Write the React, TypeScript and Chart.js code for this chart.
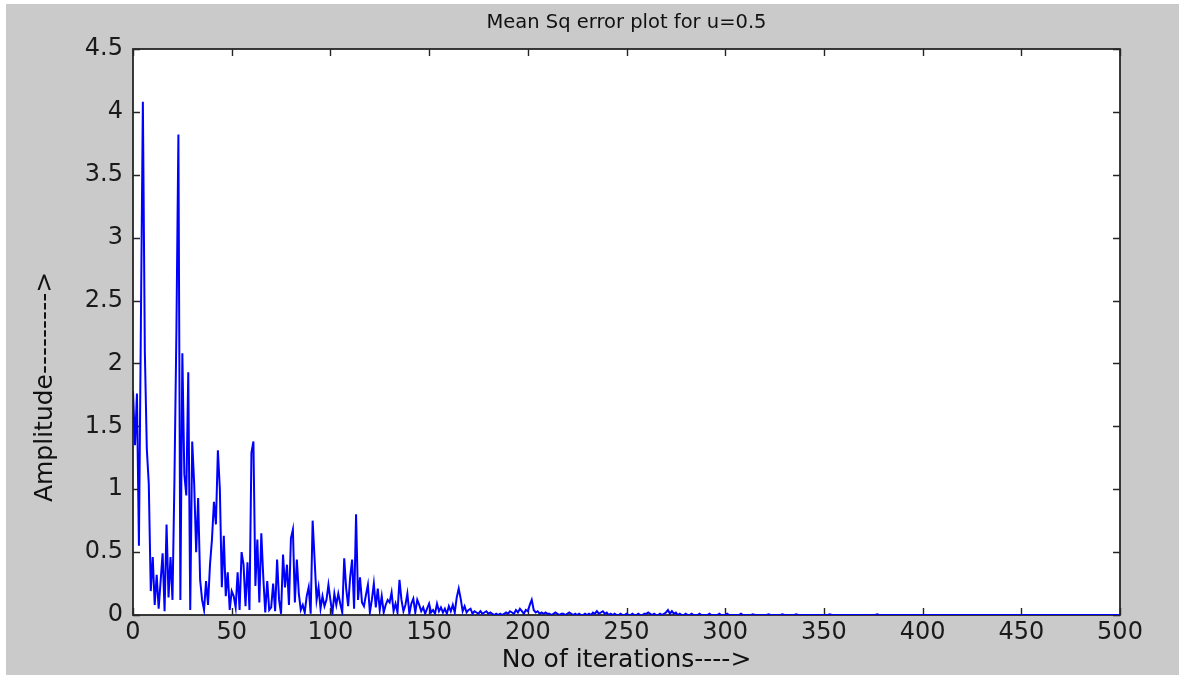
import React, { useEffect, useRef } from "react";
import { Chart, registerables } from "chart.js";

Chart.register(...registerables);

// Text shown on the figure
const chartTitle = "Mean Sq error plot for u=0.5";
const xAxisTitle = "No of iterations---->";
const yAxisTitle = "Amplitude--------->";

// Axis ticks
const xTickValues = [0, 50, 100, 150, 200, 250, 300, 350, 400, 450, 500];
const yTickValues = [0, 0.5, 1, 1.5, 2, 2.5, 3, 3.5, 4, 4.5];
const yTickLabels = ["0", "0.5", "1", "1.5", "2", "2.5", "3", "3.5", "4", "4.5"];

// Mean squared error, iterations 0..210 (the noisy transient)
const mseTransient = [
  1.78, 1.35, 1.76, 0.55, 2.32, 4.08, 2.09, 1.32, 1.04, 0.19,
  0.46, 0.08, 0.32, 0.05, 0.27, 0.49, 0.03, 0.72, 0.14, 0.46,
  0.12, 1.08, 2.27, 3.82, 0.12, 2.08, 1.12, 0.95, 1.93, 0.04,
  1.38, 1.04, 0.5, 0.93, 0.28, 0.12, 0.04, 0.27, 0.08, 0.4,
  0.6, 0.9, 0.72, 1.31, 1.0, 0.22, 0.63, 0.15, 0.34, 0.04,
  0.19, 0.15, 0.06, 0.34, 0.04, 0.5, 0.4, 0.07, 0.42, 0.04,
  1.29, 1.38, 0.23, 0.6, 0.1, 0.65, 0.3, 0.02, 0.27, 0.04,
  0.06, 0.25, 0.03, 0.44, 0.12, 0.01, 0.48, 0.22, 0.4, 0.08,
  0.61, 0.68, 0.1, 0.44, 0.17, 0.04, 0.08, 0.02, 0.15, 0.22,
  0.01, 0.75, 0.44, 0.12, 0.22, 0.05, 0.15, 0.07, 0.12, 0.24,
  0.12, 0.01, 0.17, 0.08, 0.17, 0.09, 0.02, 0.45, 0.21, 0.07,
  0.3, 0.44, 0.05, 0.8, 0.12, 0.3, 0.1, 0.07, 0.16, 0.24,
  0.02, 0.12, 0.25, 0.06, 0.21, 0.04, 0.15, 0.02, 0.08, 0.12,
  0.1, 0.18, 0.03, 0.09, 0.02, 0.28, 0.12, 0.03, 0.08, 0.17,
  0.01, 0.09, 0.13, 0.02, 0.12, 0.08, 0.03, 0.06, 0.01, 0.05,
  0.09, 0.02, 0.04, 0.01, 0.09, 0.03, 0.06, 0.02, 0.05, 0.01,
  0.07, 0.03, 0.08, 0.02, 0.14, 0.21, 0.13, 0.03, 0.07, 0.02,
  0.04, 0.05, 0.01, 0.03, 0.02, 0.01, 0.03, 0.01, 0.02, 0.03,
  0.01, 0.02, 0.01, 0, 0.01, 0, 0.01, 0, 0.01, 0.02,
  0.01, 0.03, 0.02, 0.01, 0.04, 0.02, 0.05, 0.03, 0.01, 0.04,
  0.03, 0.08, 0.12, 0.04, 0.02, 0.03, 0.01, 0.02, 0.01, 0.02,
  0.01,
];

// Mean squared error, iterations 211..500 (settled)
const mseSettled = [
  0.01, 0, 0.01, 0.02, 0.01, 0, 0.01, 0.01, 0, 0.01,
  0.02, 0.01, 0, 0.01, 0, 0.01, 0, 0, 0.01, 0,
  0.01, 0, 0.02, 0.01, 0.03, 0.01, 0.02, 0.03, 0.01, 0.02,
  0, 0.01, 0, 0.01, 0, 0, 0.01, 0, 0, 0.01,
  0, 0, 0.01, 0, 0, 0.01, 0, 0, 0.01, 0.01,
  0.02, 0.01, 0, 0.01, 0, 0, 0.01, 0, 0.01, 0.02,
  0.04, 0.01, 0.03, 0.01, 0.02, 0, 0.01, 0, 0, 0.01,
  0, 0, 0.01, 0, 0, 0, 0.01, 0, 0, 0,
  0, 0.01, 0, 0, 0, 0, 0.01, 0, 0, 0,
  0.01, 0, 0, 0, 0, 0, 0, 0.01, 0, 0,
  0, 0, 0, 0.005, 0, 0, 0, 0, 0, 0,
  0, 0.005, 0, 0, 0, 0, 0, 0, 0.005, 0,
  0, 0, 0, 0, 0, 0.005, 0, 0, 0, 0,
  0, 0, 0, 0, 0, 0, 0, 0, 0, 0,
  0, 0, 0.005, 0, 0, 0, 0, 0, 0, 0,
  0, 0, 0, 0, 0, 0, 0, 0, 0, 0,
  0, 0, 0, 0, 0, 0, 0.005, 0, 0, 0,
  0, 0, 0, 0, 0, 0, 0, 0, 0, 0,
  0, 0, 0, 0, 0, 0, 0, 0, 0, 0,
  0, 0, 0, 0, 0, 0, 0, 0, 0, 0,
  0, 0, 0, 0, 0, 0, 0, 0, 0, 0,
  0, 0, 0, 0, 0, 0, 0, 0, 0, 0,
  0, 0, 0, 0, 0, 0, 0, 0, 0, 0,
  0, 0, 0, 0, 0, 0, 0, 0, 0, 0,
  0, 0, 0, 0, 0, 0, 0, 0, 0, 0,
  0, 0, 0, 0, 0, 0, 0, 0, 0, 0,
  0, 0, 0, 0, 0, 0, 0, 0, 0, 0,
  0, 0, 0, 0, 0, 0, 0, 0, 0, 0,
  0, 0, 0, 0, 0, 0, 0, 0, 0, 0,
];

const W = 1179;
const H = 675;
const PLOT = { left: 133, top: 49, right: 1120, bottom: 615 };
const FONT = "DejaVu Sans";
const TICK_LEN = 7;

// Grey figure background, white axes box, MATLAB-style inward ticks, title and y label
const figurePlugin = {
  id: "figureFrame",
  beforeDraw(chart: any) {
    const { ctx, chartArea: a } = chart;
    ctx.save();
    ctx.fillStyle = "#ffffff";
    ctx.fillRect(0, 0, W, H);
    ctx.fillStyle = "#cacaca";
    ctx.fillRect(6, 4, W - 6, H - 4);
    ctx.fillStyle = "#ffffff";
    ctx.fillRect(a.left, a.top, a.right - a.left, a.bottom - a.top);
    ctx.restore();
  },
  beforeDatasetsDraw(chart: any) {
    const { ctx, chartArea: a, scales } = chart;
    ctx.save();
    ctx.strokeStyle = "#262626";
    ctx.lineWidth = 1.8;
    ctx.strokeRect(a.left, a.top, a.right - a.left, a.bottom - a.top);
    ctx.lineWidth = 1.4;
    ctx.beginPath();
    for (const t of scales.x.ticks) {
      const px = Math.round(scales.x.getPixelForValue(t.value)) + 0.5;
      ctx.moveTo(px, a.bottom);
      ctx.lineTo(px, a.bottom - TICK_LEN);
      ctx.moveTo(px, a.top);
      ctx.lineTo(px, a.top + TICK_LEN);
    }
    for (const t of scales.y.ticks) {
      const py = Math.round(scales.y.getPixelForValue(t.value)) + 0.5;
      ctx.moveTo(a.left, py);
      ctx.lineTo(a.left + TICK_LEN, py);
      ctx.moveTo(a.right, py);
      ctx.lineTo(a.right - TICK_LEN, py);
    }
    ctx.stroke();

    ctx.fillStyle = "#111111";
    ctx.textAlign = "center";
    ctx.textBaseline = "middle";
    ctx.font = `19.5px "${FONT}"`;
    ctx.fillText(chartTitle, (a.left + a.right) / 2, 23);

    ctx.font = `25px "${FONT}"`;
    ctx.translate(45, 387);
    ctx.rotate(-Math.PI / 2);
    ctx.fillText(yAxisTitle, 0, 0);
    ctx.restore();
  },
};

export default function App() {
  const canvasRef = useRef<HTMLCanvasElement | null>(null);

  useEffect(() => {
    const canvas = canvasRef.current;
    if (!canvas) return;
    const mse = mseTransient.concat(mseSettled);
    const points = mse.map((v, i) => ({ x: i, y: v }));

    const chart = new Chart(canvas, {
      type: "line",
      data: {
        datasets: [
          {
            label: "MSE",
            data: points,
            borderColor: "#0000ff",
            borderWidth: 2,
            pointRadius: 0,
            tension: 0,
            fill: false,
          },
        ],
      },
      options: {
        animation: false,
        responsive: false,
        devicePixelRatio: 1,
        layout: {
          padding: { left: 0, top: PLOT.top, right: W - PLOT.right, bottom: 0 },
        },
        plugins: {
          legend: { display: false },
          title: { display: false },
          tooltip: { enabled: false },
        },
        scales: {
          x: {
            type: "linear",
            min: 0,
            max: 500,
            afterFit: (s: any) => {
              s.height = H - PLOT.bottom;
            },
            afterBuildTicks: (s: any) => {
              s.ticks = xTickValues.map((v) => ({ value: v }));
            },
            grid: { display: false, drawTicks: false },
            border: { display: false },
            ticks: {
              padding: 3,
              color: "#1a1a1a",
              font: { family: FONT, size: 24 },
              maxRotation: 0,
              autoSkip: false,
              callback: (v: any) => String(v),
            },
            title: {
              display: true,
              text: xAxisTitle,
              color: "#111111",
              font: { family: FONT, size: 25 },
              padding: { top: 0, bottom: 0 },
            },
          },
          y: {
            type: "linear",
            min: 0,
            max: 4.5,
            afterFit: (s: any) => {
              s.width = PLOT.left;
            },
            afterBuildTicks: (s: any) => {
              s.ticks = yTickValues.map((v) => ({ value: v }));
            },
            grid: { display: false, drawTicks: false },
            border: { display: false },
            ticks: {
              padding: 10,
              color: "#1a1a1a",
              font: { family: FONT, size: 24 },
              autoSkip: false,
              callback: (v: any) => {
                const k = yTickValues.indexOf(Number(v));
                return k >= 0 ? yTickLabels[k] : "";
              },
            },
            title: { display: false },
          },
        },
      },
      plugins: [figurePlugin],
    });
    return () => chart.destroy();
  }, []);

  return (
    <div style={{ position: "absolute", left: 0, top: 0, width: W, height: H }}>
      <canvas ref={canvasRef} width={W} height={H} style={{ display: "block" }} />
    </div>
  );
}
